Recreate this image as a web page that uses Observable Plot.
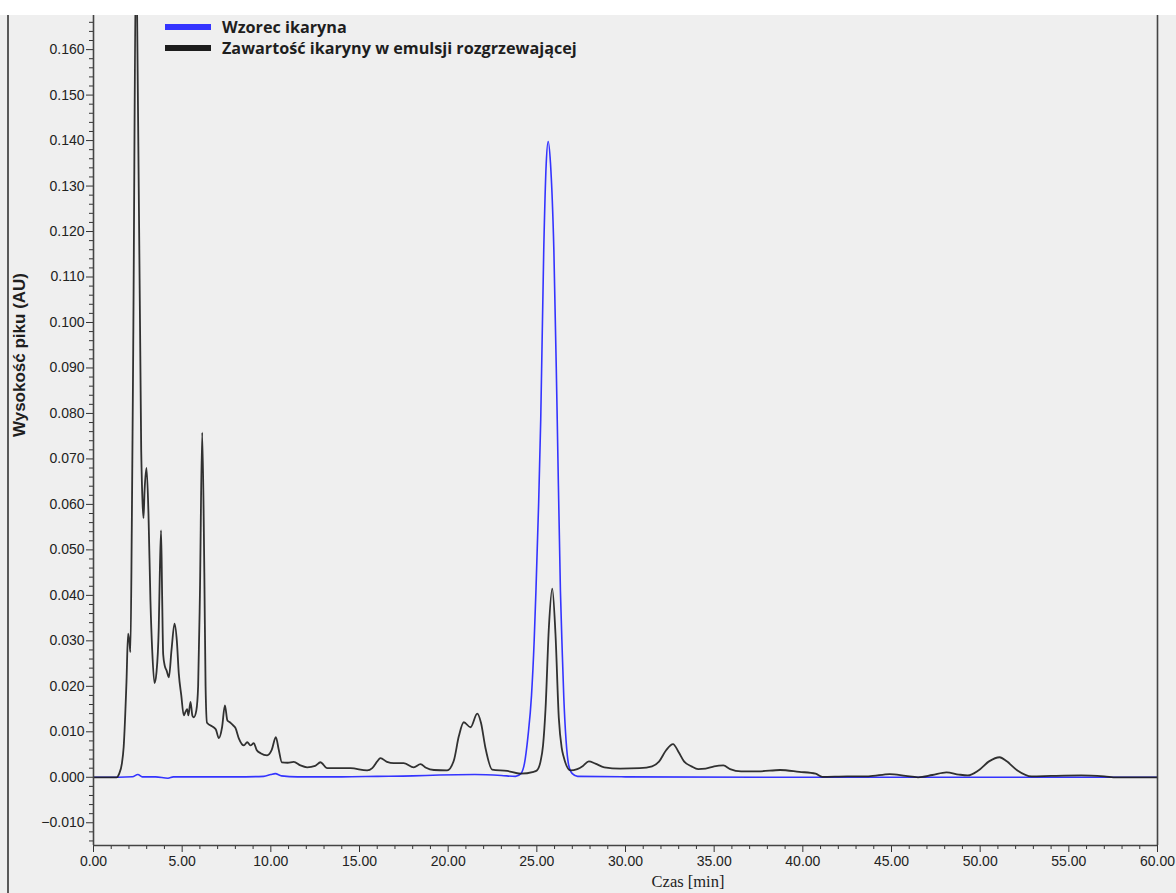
<!DOCTYPE html>
<html>
<head>
<meta charset="utf-8">
<script src="https://cdn.jsdelivr.net/npm/d3@7"></script>
<script src="https://cdn.jsdelivr.net/npm/@observablehq/plot@0.6"></script>
<style>
html, body { margin: 0; padding: 0; background: #ffffff; }
#wrap { position: relative; width: 1176px; height: 893px; overflow: hidden; background: #ffffff; }
#chart { position: absolute; left: 0; top: 15px; width: 1176px; height: 878px; background: #efefef; }
#border { position: absolute; left: 7px; top: 15px; width: 2px; height: 878px; background: #5a5a5a; }
#legend { position: absolute; left: 165px; top: 16px; font-family: "Open Sans", "Liberation Sans", sans-serif; font-weight: 700; font-size: 16.2px; color: #1e1e1e; }
#legend .item { display: flex; align-items: center; height: 21.5px; white-space: nowrap; }
#legend .sw { width: 46px; height: 6px; margin-right: 11px; }
#ytitle { position: absolute; left: 20px; top: 355px; transform: translate(-50%, -50%) rotate(-90deg); font-family: "Liberation Sans", Arial, sans-serif; font-weight: 700; font-size: 17px; color: #1e1e1e; white-space: nowrap; }
#xtitle { position: absolute; left: 688px; top: 872px; transform: translateX(-50%); font-family: "Liberation Serif", "Times New Roman", serif; font-size: 16.5px; color: #1e1e1e; white-space: nowrap; }
</style>
</head>
<body>
<div id="wrap">
  <div id="chart"></div>
  <div id="border"></div>
  <div id="legend"></div>
  <div id="ytitle">Wysokość piku (AU)</div>
  <div id="xtitle">Czas [min]</div>
</div>
<script>
// ---- Data ----
const seriesNames = ["Wzorec ikaryna", "Zawartość ikaryny w emulsji rozgrzewającej"];
const seriesColors = ["#3434ff", "#1c1c1c"];

// Standard (blue)
const stdTime = [0, 1.4, 2.2, 2.5, 2.75, 3.5, 4.2, 4.5, 6, 8, 9.6, 10.0, 10.25, 10.6, 11.5, 14, 16, 18, 19.5, 21.5, 23.0, 23.8,
  24.1, 24.3, 24.5, 24.7, 24.85, 24.95, 25.1, 25.22, 25.39, 25.53, 25.64, 25.77, 25.96, 26.15, 26.33, 26.43, 26.52, 26.65, 26.8, 27.0, 27.3, 30, 40, 60];
const stdValue = [0, 0, 0.0001, 0.0006, 0.0001, 0.0001, -0.0002, 0.0001, 0.0001, 0.0001, 0.0002, 0.0006, 0.0008, 0.0003, 0.0001, 0.0001, 0.0002, 0.0003, 0.0005, 0.0006, 0.0004, 0.0002,
  0.0008, 0.003, 0.009, 0.018, 0.03, 0.041, 0.06, 0.0787, 0.116, 0.135, 0.1398, 0.135, 0.116, 0.0787, 0.041, 0.028, 0.0176, 0.008, 0.0026, 0.0008, 0.0002, 0.0001, 0, 0];

// Sample (black)
const smpTime = [0, 1.30, 1.45, 1.60, 1.70, 1.86, 1.95, 2.02, 2.08, 2.16, 2.24, 2.42, 2.46, 2.69, 2.77, 2.82, 2.88, 2.99, 3.10, 3.21, 3.31, 3.44, 3.55, 3.68, 3.74, 3.81, 3.87, 3.93,
  4.02, 4.12, 4.25, 4.40, 4.57, 4.70, 4.81, 4.95, 5.09, 5.20, 5.28, 5.35, 5.47, 5.58, 5.66, 5.80, 5.90, 6.00, 6.13, 6.25, 6.32, 6.40, 6.77, 6.90, 7.07, 7.25, 7.41, 7.55, 7.69, 7.85,
  8.01, 8.20, 8.48, 8.67, 8.85, 9.04, 9.20, 9.42, 9.79, 10.05, 10.28, 10.45, 10.62, 10.95, 11.29, 11.67, 12.05, 12.50, 12.80, 13.18, 14.50, 15.43, 15.72, 16.0, 16.18, 16.55, 16.93,
  17.49, 18.06, 18.44, 18.75, 19.20, 19.94, 20.32, 20.60, 20.88, 21.26, 21.64, 21.85, 22.10, 22.48, 23.33, 24.08, 24.82, 25.00, 25.21, 25.35, 25.49, 25.68, 25.87, 26.05, 26.24,
  26.40, 26.52, 26.9, 27.28, 27.60, 27.93, 28.30, 28.80, 29.7, 30.8, 31.5, 31.9, 32.3, 32.68, 33.0, 33.3, 33.72, 34.1, 34.52, 35.0, 35.52, 35.9, 36.52, 37.5, 38.72, 39.8, 40.72,
  41.1, 42.5, 43.7, 44.9, 45.8, 46.5, 47.3, 48.1, 48.8, 49.3, 49.9, 50.5, 51.1, 51.5, 52.1, 52.9, 54.0, 55.7, 57.0, 57.7, 60];
const smpValue = [0, 0, 0.0008, 0.003, 0.0066, 0.021, 0.0316, 0.030, 0.0275, 0.055, 0.0945, 0.19, 0.1675, 0.0719, 0.060, 0.057, 0.063, 0.068, 0.058, 0.039, 0.028, 0.0207, 0.023, 0.033, 0.045, 0.0543, 0.040, 0.027,
  0.0245, 0.0235, 0.022, 0.028, 0.0338, 0.030, 0.0228, 0.018, 0.0136, 0.0145, 0.015, 0.0136, 0.0166, 0.0135, 0.0132, 0.0147, 0.020, 0.040, 0.0758, 0.045, 0.020, 0.012, 0.011, 0.0105, 0.0086, 0.011, 0.0158, 0.0125, 0.0121, 0.0115,
  0.0108, 0.0085, 0.007, 0.0077, 0.007, 0.0075, 0.006, 0.0053, 0.0048, 0.006, 0.0088, 0.006, 0.0033, 0.0032, 0.0034, 0.0026, 0.0022, 0.0025, 0.0033, 0.002, 0.002, 0.0015, 0.002, 0.0035, 0.0042, 0.0034, 0.0031,
  0.0031, 0.0022, 0.0029, 0.0021, 0.0016, 0.0015, 0.0037, 0.009, 0.0121, 0.011, 0.014, 0.012, 0.0065, 0.0017, 0.0014, 0.0008, 0.0012, 0.0015, 0.0035, 0.0070, 0.015, 0.0330, 0.0415, 0.0316, 0.013,
  0.0065, 0.0044, 0.0015, 0.0018, 0.0025, 0.0035, 0.003, 0.0022, 0.0019, 0.002, 0.0024, 0.0035, 0.0060, 0.0073, 0.0055, 0.0035, 0.0024, 0.0018, 0.0019, 0.0024, 0.0026, 0.0018, 0.0013, 0.0013, 0.0016, 0.0012, 0.0008,
  0.0001, 0.0002, 0.0002, 0.0007, 0.0003, 0, 0.0005, 0.0011, 0.0006, 0.0004, 0.0015, 0.0035, 0.0044, 0.0035, 0.0015, 0.0002, 0.0003, 0.0004, 0.0002, 0, 0];

// Axis ticks
const xTicks = [0, 5, 10, 15, 20, 25, 30, 35, 40, 45, 50, 55, 60];
const yTicks = [-0.01, 0, 0.01, 0.02, 0.03, 0.04, 0.05, 0.06, 0.07, 0.08, 0.09, 0.1, 0.11, 0.12, 0.13, 0.14, 0.15, 0.16];
const xDomain = [0, 60];
const yDomain = [-0.015, 0.1675];

// ---- Build tables ----
const std = stdTime.map((t, i) => ({t, v: stdValue[i]}));
const smp = smpTime.map((t, i) => ({t, v: smpValue[i]}));
const xMinor = d3.range(0, 60.001, 1).filter(d => d % 5 !== 0);
const yMinor = d3.range(-14, 167, 2).map(d => d / 1000).filter(d => Math.round(d * 1000) % 10 !== 0);

const chart = Plot.plot({
  width: 1176,
  height: 878,
  marginLeft: 93,
  marginRight: 19,
  marginTop: 0,
  marginBottom: 48,
  style: {background: "transparent", fontFamily: "'Liberation Sans', Arial, sans-serif", fontSize: "14px", color: "#222"},
  x: {domain: xDomain},
  y: {domain: yDomain},
  marks: [
    Plot.axisY(yMinor, {anchor: "left", tickSize: 4, text: null, label: null, stroke: "#333"}),
    Plot.axisY(yTicks, {anchor: "left", tickSize: 7, tickPadding: 2, tickFormat: d3.format(".3f"), label: null, stroke: "#333"}),
    Plot.axisX(xMinor, {anchor: "bottom", tickSize: 4, text: null, label: null, stroke: "#333"}),
    Plot.axisX(xTicks, {anchor: "bottom", tickSize: 7, tickPadding: 4, tickFormat: d3.format(".2f"), label: null, stroke: "#333"}),
    Plot.line(std, {x: "t", y: "v", stroke: seriesColors[0], strokeWidth: 1.6, curve: "monotone-x", clip: true}),
    Plot.line(smp, {x: "t", y: "v", stroke: seriesColors[1], strokeWidth: 1.8, strokeOpacity: 0.9, curve: "monotone-x", clip: true}),
    Plot.ruleX(xDomain, {stroke: "#444", strokeWidth: 1.6}),
    Plot.ruleY([yDomain[0]], {stroke: "#444", strokeWidth: 1.6})
  ]
});
document.getElementById("chart").appendChild(chart);

// Legend
const legend = document.getElementById("legend");
seriesNames.forEach((name, i) => {
  const item = document.createElement("div");
  item.className = "item";
  const sw = document.createElement("span");
  sw.className = "sw";
  sw.style.background = seriesColors[i];
  const lab = document.createElement("span");
  lab.textContent = name;
  item.appendChild(sw);
  item.appendChild(lab);
  legend.appendChild(item);
});
</script>
</body>
</html>
